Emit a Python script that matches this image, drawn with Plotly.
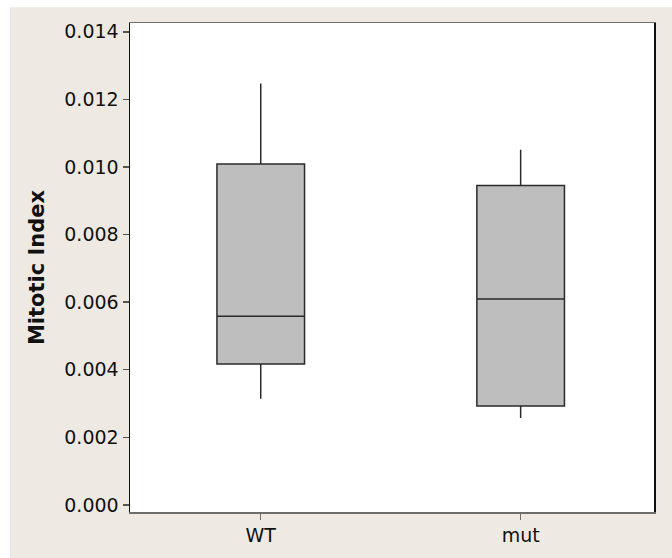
import plotly.graph_objects as go

categories = ["WT", "mut"]
lower_whisker = [0.00314, 0.00257]
q1_values = [0.00417, 0.00293]
median_values = [0.00558, 0.00609]
q3_values = [0.01009, 0.00945]
upper_whisker = [0.01247, 0.01051]
y_tick_vals = [0.000, 0.002, 0.004, 0.006, 0.008, 0.010, 0.012, 0.014]
y_tick_text = ["0.000", "0.002", "0.004", "0.006", "0.008", "0.010", "0.012", "0.014"]

BEIGE = "#EEEAE3"
FONT = "DejaVu Sans"

fig = go.Figure()
fig.add_trace(go.Box(
    x=categories,
    q1=q1_values,
    median=median_values,
    q3=q3_values,
    lowerfence=lower_whisker,
    upperfence=upper_whisker,
    fillcolor="#BEBEBE",
    line=dict(color="#2A2A2A", width=1.5),
    whiskerwidth=0,
    width=0.337,
    boxpoints=False,
    hoverinfo="skip",
    showlegend=False,
))

# white strips at top and left edge of the figure (outside the beige frame)
fig.add_shape(type="rect", xref="paper", yref="paper", x0=-0.3, x1=(10 - 130) / 524,
              y0=-0.1, y1=1.1, fillcolor="white", line=dict(width=0), layer="below")
fig.add_shape(type="rect", xref="paper", yref="paper", x0=-0.3, x1=1.1,
              y0=(523 - 7) / 500, y1=1.1, fillcolor="white", line=dict(width=0), layer="below")

fig.update_layout(
    width=672, height=558,
    margin=dict(l=130, r=18, t=23, b=35),
    paper_bgcolor=BEIGE,
    plot_bgcolor="white",
    font=dict(family=FONT, size=18, color="#111111"),
    xaxis=dict(
        range=[-0.503, 1.513],
        showline=True, linecolor="#6E6E6E", linewidth=1.5, mirror=True,
        ticks="outside", ticklen=6, tickcolor="#6E6E6E", tickwidth=1.5,
        showgrid=False, zeroline=False,
        tickfont=dict(family=FONT, size=19, color="#111111"),
    ),
    yaxis=dict(
        range=[-0.00021, 0.01426],
        tickvals=y_tick_vals, ticktext=y_tick_text,
        showline=True, linecolor="#111111", linewidth=1.5, mirror=True,
        ticks="outside", ticklen=6, tickcolor="#555555", tickwidth=1.5,
        showgrid=False, zeroline=False,
        tickfont=dict(family=FONT, size=19, color="#111111"),
        title=dict(text="<b>Mitotic Index</b>", font=dict(family=FONT, size=21, color="#111111"), standoff=14),
    ),
)

fig.write_html(
    "out.html",
    config={"displayModeBar": False, "staticPlot": True},
    post_script="document.body.style.margin='0';document.body.style.overflow='hidden';",
)
